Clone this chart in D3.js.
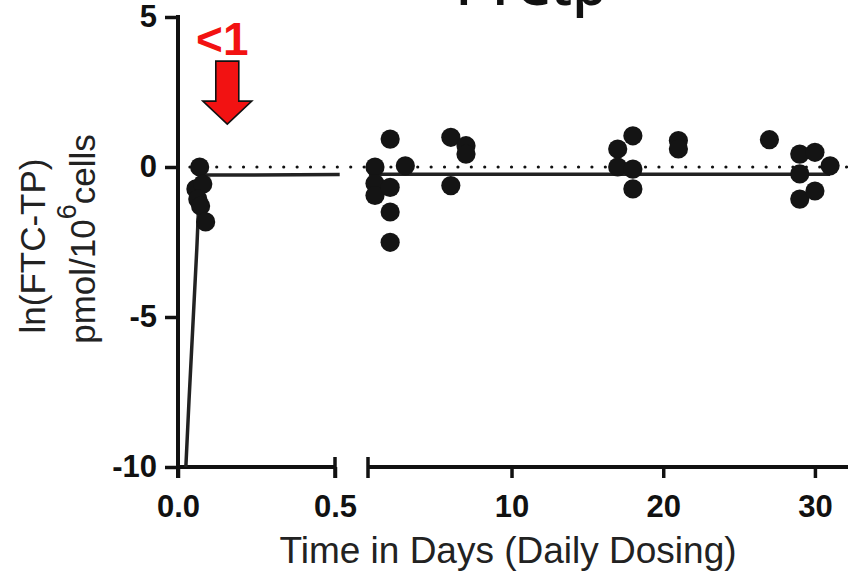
<!DOCTYPE html>
<html>
<head>
<meta charset="utf-8">
<script src="https://cdn.jsdelivr.net/npm/d3@7"></script>
<style>
  body { margin: 0; background: #fff; }
  svg { display: block; }
</style>
</head>
<body>
<svg id="chart" width="848" height="573"></svg>
<script>
'use strict';

// early samples (hours after first dose, shown in days)
const earlyDays = [0.069, 0.057, 0.079, 0.063, 0.072, 0.088];
const earlyVals = [0.0, -0.73, -0.57, -1.07, -1.3, -1.83];

// daily dosing samples
const lateDays = [1, 1, 1, 2, 2, 2, 2, 3, 6, 6, 7, 7, 17, 17, 18, 18, 18, 21, 21, 27, 29, 29, 29, 30, 30, 31];
const lateVals = [0.0, -0.55, -0.95, 0.93, -0.68, -1.5, -2.51, 0.04, 0.99, -0.62, 0.71, 0.43,
                  0.6, 0.0, 1.04, -0.07, -0.73, 0.88, 0.6, 0.91, 0.43, -0.23, -1.07, 0.49, -0.8, 0.04];

// model fit
const fitLeftDays = [0.025, 0.035, 0.06, 0.068, 0.075, 0.09, 0.515];
const fitLeftVals = [-10, -7.8, -2.7, -0.9, -0.45, -0.27, -0.25];
const fitRightDays = [0.6, 31];
const fitRightVals = [-0.24, -0.24];

const yTicks = [5, 0, -5, -10];
const xLeftTicks = [0, 0.5];
const xLeftLabels = ["0.0", "0.5"];
const xRightTicks = [10, 20, 30];

const svg = d3.select("#chart");
const ink = "#111";
const tickFont = "bold 31px 'Liberation Sans', Arial, sans-serif";

const y = d3.scaleLinear().domain([-10, 5]).range([467, 17]);
const xl = d3.scaleLinear().domain([0, 0.5]).range([178, 335]);
const xr = d3.scaleLinear().domain([0.54, 32.18]).range([368, 848]);

// title (cut off at top in the original)
svg.append("text")
    .attr("x", 531).attr("y", 5)
    .attr("text-anchor", "middle")
    .style("font", "600 55px 'Open Sans', sans-serif")
    .attr("fill", "#111")
    .text("FTCtp");

// y axis
const yAxis = svg.append("g")
    .attr("transform", `translate(${xl(0)},0)`)
    .call(d3.axisLeft(y).tickValues(yTicks).tickSize(13).tickPadding(8).tickFormat(d => String(d)));
yAxis.select(".domain").remove();
yAxis.selectAll(".tick line").attr("stroke", ink).attr("stroke-width", 3.5);
yAxis.selectAll(".tick text").attr("fill", ink).style("font", tickFont);
svg.append("line")
    .attr("x1", xl(0)).attr("x2", xl(0))
    .attr("y1", y(5) - 2).attr("y2", y(-10) + 11)
    .attr("stroke", ink).attr("stroke-width", 4);

// x axis, left segment
const xAxisL = svg.append("g")
    .attr("transform", `translate(0,${y(-10)})`)
    .call(d3.axisBottom(xl).tickValues(xLeftTicks).tickSize(11).tickPadding(17)
        .tickFormat((d, i) => xLeftLabels[i]));
xAxisL.select(".domain").remove();
xAxisL.selectAll(".tick line").attr("stroke", ink).attr("stroke-width", 3.5);
xAxisL.selectAll(".tick text").attr("fill", ink).style("font", tickFont);
svg.append("line")
    .attr("x1", xl(0)).attr("x2", xl(0.5))
    .attr("y1", y(-10)).attr("y2", y(-10))
    .attr("stroke", ink).attr("stroke-width", 4);
svg.append("line")
    .attr("x1", xl(0.5)).attr("x2", xl(0.5))
    .attr("y1", y(-10) - 10).attr("y2", y(-10) + 11)
    .attr("stroke", ink).attr("stroke-width", 3.5);

// x axis, right segment
const xAxisR = svg.append("g")
    .attr("transform", `translate(0,${y(-10)})`)
    .call(d3.axisBottom(xr).tickValues(xRightTicks).tickSize(11).tickPadding(17));
xAxisR.select(".domain").remove();
xAxisR.selectAll(".tick line").attr("stroke", ink).attr("stroke-width", 3.5);
xAxisR.selectAll(".tick text").attr("fill", ink).style("font", tickFont);
svg.append("line")
    .attr("x1", xr(0.54)).attr("x2", xr(32.18))
    .attr("y1", y(-10)).attr("y2", y(-10))
    .attr("stroke", ink).attr("stroke-width", 4);
svg.append("line")
    .attr("x1", xr(0.54)).attr("x2", xr(0.54))
    .attr("y1", y(-10) - 10).attr("y2", y(-10) + 11)
    .attr("stroke", ink).attr("stroke-width", 3.5);

// axis titles
svg.append("text")
    .attr("x", 508).attr("y", 563)
    .attr("text-anchor", "middle")
    .attr("fill", "#222")
    .style("font", "37px 'Liberation Sans', Arial, sans-serif")
    .text("Time in Days (Daily Dosing)");

svg.append("text")
    .attr("transform", "translate(45,246) rotate(-90)")
    .attr("text-anchor", "middle")
    .attr("fill", "#222")
    .style("font", "35px 'Liberation Sans', Arial, sans-serif")
    .text("ln(FTC-TP)");

const yt2 = svg.append("text")
    .attr("transform", "translate(95,239) rotate(-90)")
    .attr("text-anchor", "middle")
    .attr("fill", "#222")
    .style("font", "35px 'Liberation Sans', Arial, sans-serif");
yt2.append("tspan").text("pmol/10");
yt2.append("tspan").attr("dy", -19).style("font-size", "27px").text("6");
yt2.append("tspan").attr("dy", 19).text("cells");

// reference line at zero
svg.append("line")
    .attr("x1", xl(0.038)).attr("x2", xr(32.18))
    .attr("y1", y(0)).attr("y2", y(0))
    .attr("stroke", ink).attr("stroke-width", 3.2)
    .attr("stroke-linecap", "round")
    .attr("stroke-dasharray", "0 13.4");

// fit lines
const lineL = d3.line().x(d => xl(d)).y((d, i) => y(fitLeftVals[i])).curve(d3.curveMonotoneX);
const lineR = d3.line().x(d => xr(d)).y((d, i) => y(fitRightVals[i]));
svg.append("path").attr("d", lineL(fitLeftDays))
    .attr("fill", "none").attr("stroke", "#222").attr("stroke-width", 3.5);
svg.append("path").attr("d", lineR(fitRightDays))
    .attr("fill", "none").attr("stroke", "#222").attr("stroke-width", 3.5);

// points
svg.append("g").selectAll("circle")
    .data(earlyDays)
    .join("circle")
    .attr("cx", d => xl(d))
    .attr("cy", (d, i) => y(earlyVals[i]))
    .attr("r", 9.6)
    .attr("fill", "#141414");

svg.append("g").selectAll("circle")
    .data(lateDays)
    .join("circle")
    .attr("cx", d => xr(d))
    .attr("cy", (d, i) => y(lateVals[i]))
    .attr("r", 9.6)
    .attr("fill", "#141414");

// annotation: red arrow with "<1"
const arrowDay = 0.157;
const arrowTip = 1.43;
const ax = xl(arrowDay), ay = y(arrowTip);
svg.append("path")
    .attr("transform", `translate(${ax},${ay})`)
    .attr("d", "M-11.5,-63 L11.5,-63 L11.5,-23 L24.5,-23 L0,0 L-24.5,-23 L-11.5,-23 Z")
    .attr("fill", "#f21212")
    .attr("stroke", "#111")
    .attr("stroke-width", 1.6)
    .attr("stroke-linejoin", "miter");
svg.append("text")
    .attr("x", ax - 5).attr("y", ay - 69)
    .attr("text-anchor", "middle")
    .attr("fill", "#f21212")
    .style("font", "bold 46px 'Liberation Sans', Arial, sans-serif")
    .text("<1");
</script>
</body>
</html>
